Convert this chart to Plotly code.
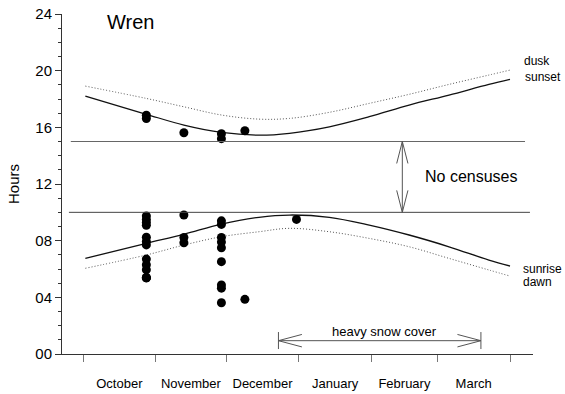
import plotly.graph_objects as go

# Day 0 = 1 October; y in hours of the day
months = ["October", "November", "December", "January", "February", "March"]
month_starts = [0, 31, 61, 92, 123, 151, 182]

curve_days = [1, 27, 43, 59, 75, 88, 105, 122, 139, 156, 173, 182]
sunset = [18.21, 16.92, 16.16, 15.64, 15.45, 15.58, 16.04, 16.75, 17.57, 18.28, 19.03, 19.39]
dusk = [18.91, 18.04, 17.45, 16.87, 16.58, 16.63, 17.06, 17.69, 18.33, 19.03, 19.69, 20.04]
sunrise = [6.75, 7.81, 8.45, 9.17, 9.65, 9.81, 9.65, 9.10, 8.40, 7.57, 6.63, 6.21]
dawn = [6.05, 6.99, 7.69, 8.28, 8.63, 8.87, 8.63, 8.16, 7.57, 6.75, 5.93, 5.50]

# Wren census times
census_days = (
    [27] * 15
    + [43] * 4
    + [59] * 11
    + [69] * 2
    + [91]
)
census_hours = (
    [16.85, 16.62, 9.75, 9.5, 9.28, 9.08, 8.25, 7.95, 7.7, 6.7, 6.3, 5.95, 5.38, 5.38, 5.38]
    + [15.62, 9.81, 8.22, 7.85]
    + [15.55, 15.2, 9.4, 9.15, 8.22, 7.9, 7.5, 6.52, 4.87, 4.65, 3.62]
    + [15.76, 3.86]
    + [9.5]
)

y_ticks = [0, 4, 8, 12, 16, 20, 24]
y_tick_text = ["00", "04", "08", "12", "16", "20", "24"]

# annotation geometry
gap_low, gap_high = 10, 15
gap_arrow_day = 136.1
snow_start, snow_end, snow_level = 83.3, 169.6, 0.94

FONT = "Liberation Sans, Arial, sans-serif"
month_mid = [(a + b) / 2 for a, b in zip(month_starts[:-1], month_starts[1:])]

fig = go.Figure()
dotted = dict(color="#555", width=1, dash="1px,2px", shape="spline")
solid = dict(color="#111", width=1.3, shape="spline")
fig.add_trace(go.Scatter(x=curve_days, y=dusk, mode="lines", line=dotted, hoverinfo="skip"))
fig.add_trace(go.Scatter(x=curve_days, y=sunset, mode="lines", line=solid, hoverinfo="skip"))
fig.add_trace(go.Scatter(x=curve_days, y=sunrise, mode="lines", line=solid, hoverinfo="skip"))
fig.add_trace(go.Scatter(x=curve_days, y=dawn, mode="lines", line=dotted, hoverinfo="skip"))
fig.add_trace(go.Scatter(x=census_days, y=census_hours, mode="markers", marker=dict(color="black", size=9, line=dict(width=0))))

shapes = []
def seg(x0, y0, x1, y1, color="#444", width=1):
    shapes.append(dict(type="line", x0=x0, y0=y0, x1=x1, y1=y1, xref="x", yref="y", line=dict(color=color, width=width)))

# no-census band limits
seg(-5.2, gap_high, 188.4, gap_high, color="#666")
seg(-6.0, gap_low, 190.5, gap_low, color="#444")
# double arrow between the limits
seg(gap_arrow_day, gap_low, gap_arrow_day, gap_high, color="#555")
for s in (-1, 1):
    seg(gap_arrow_day, gap_high, gap_arrow_day + s * 2.4, gap_high - 1.55, color="#555")
    seg(gap_arrow_day, gap_low, gap_arrow_day + s * 2.4, gap_low + 1.55, color="#555")
# snow cover arrow
seg(snow_start, snow_level, snow_end, snow_level, color="#555")
seg(snow_start, 0.35, snow_start, 1.55, color="#555")
seg(snow_end, 0.35, snow_end, 1.55, color="#555")
for s in (-1, 1):
    seg(snow_start, snow_level, snow_start + 10.0, snow_level + s * 0.44, color="#555")
    seg(snow_end, snow_level, snow_end - 10.0, snow_level + s * 0.44, color="#555")

def label(text, x, y, size=13, xanchor="left"):
    return dict(text=text, x=x, y=y, xref="x", yref="y", showarrow=False, xanchor=xanchor, yanchor="middle",
                font=dict(family=FONT, size=size, color="black"))

annotations = [
    label("Wren", 9.4, 23.45, size=20),
    label("dusk", 187.2, 20.65, size=12),
    label("sunset", 187.6, 19.55, size=12),
    label("sunrise", 186.6, 6.03, size=12),
    label("dawn", 186.6, 5.08, size=12),
    label("No censuses", 144.8, 12.5, size=16),
    label("heavy snow cover", 128.7, 1.62, xanchor="center"),
]

fig.update_layout(
    width=565, height=394,
    margin=dict(l=62, r=32, t=14, b=40),
    paper_bgcolor="white", plot_bgcolor="white",
    showlegend=False,
    shapes=shapes,
    annotations=annotations,
    font=dict(family=FONT, color="black"),
    xaxis=dict(
        range=[-8.95, 191.8], showgrid=False, zeroline=False, automargin=False,
        showline=True, linecolor="#333", linewidth=1,
        tickvals=month_mid, ticktext=months, ticks="",
        ticklabelstandoff=17, tickfont=dict(size=13),
        minor=dict(tickvals=month_starts, ticks="outside", ticklen=7, tickcolor="#777", tickwidth=1),
    ),
    yaxis=dict(
        range=[0, 24], showgrid=False, zeroline=False, automargin=False,
        showline=True, linecolor="#333", linewidth=1,
        tickvals=y_ticks, ticktext=y_tick_text, ticks="outside", ticklen=6, tickcolor="#333",
        tickfont=dict(size=15),
        minor=dict(dtick=1, ticks="outside", ticklen=3, tickcolor="#333"),
        title=dict(text="Hours", font=dict(size=15), standoff=12),
    ),
)

fig.write_html("out.html")
